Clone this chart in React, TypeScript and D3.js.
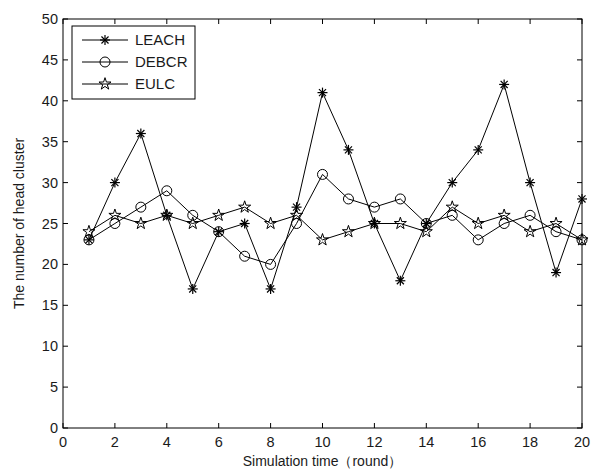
import React, { useEffect, useRef } from 'react'
import * as d3 from 'd3'

const rounds = d3.range(1, 21)
const leach = [23, 30, 36, 26, 17, 24, 25, 17, 27, 41, 34, 25, 18, 25, 30, 34, 42, 30, 19, 28]
const debcr = [23, 25, 27, 29, 26, 24, 21, 20, 25, 31, 28, 27, 28, 25, 26, 23, 25, 26, 24, 23]
const eulc = [24, 26, 25, 26, 25, 26, 27, 25, 26, 23, 24, 25, 25, 24, 27, 25, 26, 24, 25, 23]
const seriesNames = ['LEACH', 'DEBCR', 'EULC']
const xTicks = [0, 2, 4, 6, 8, 10, 12, 14, 16, 18, 20]
const yTicks = [0, 5, 10, 15, 20, 25, 30, 35, 40, 45, 50]

const W = 598, H = 470
const margin = { top: 19, right: 16, bottom: 42, left: 63 }
const font = 'Arial, "Liberation Sans", sans-serif'

// draws one marker at (0,0) inside g
function drawMarker(g: any, kind: string) {
    if (kind === 'LEACH') {
        const r = 5
        for (let a = 0; a < 180; a += 45) {
            const t = a * Math.PI / 180
            g.append('line')
                .attr('x1', -r * Math.cos(t)).attr('y1', -r * Math.sin(t))
                .attr('x2', r * Math.cos(t)).attr('y2', r * Math.sin(t))
                .attr('stroke', '#000').attr('stroke-width', 1.2)
        }
    } else if (kind === 'DEBCR') {
        g.append('circle').attr('r', 5).attr('fill', 'none').attr('stroke', '#000').attr('stroke-width', 1)
    } else {
        const star = d3.symbol().type(d3.symbolStar).size(45)
        g.append('path').attr('d', star()).attr('fill', 'none').attr('stroke', '#000').attr('stroke-width', 1)
    }
}

export default function App() {
    const ref = useRef<SVGSVGElement>(null)

    useEffect(() => {
        const svg = d3.select(ref.current)
        svg.selectAll('*').remove()
        const width = W - margin.left - margin.right,
            height = H - margin.top - margin.bottom

        const x = d3.scaleLinear().domain([0, 20]).range([0, width])
        const y = d3.scaleLinear().domain([0, 50]).range([height, 0])

        const g = svg.append('g').attr('transform', `translate(${margin.left},${margin.top})`)

        g.append('rect').attr('width', width).attr('height', height)
            .attr('fill', '#fff').attr('stroke', '#000').attr('stroke-width', 1)

        // ticks pointing inward on all four sides
        const tk = 5
        xTicks.forEach(v => {
            g.append('line').attr('x1', x(v)).attr('x2', x(v)).attr('y1', height).attr('y2', height - tk).attr('stroke', '#000')
            g.append('line').attr('x1', x(v)).attr('x2', x(v)).attr('y1', 0).attr('y2', tk).attr('stroke', '#000')
            g.append('text').attr('x', x(v)).attr('y', height + 19).attr('text-anchor', 'middle')
                .attr('font-family', font).attr('font-size', 14.5).attr('fill', '#1a1a1a').text(v)
        })
        yTicks.forEach(v => {
            g.append('line').attr('x1', 0).attr('x2', tk).attr('y1', y(v)).attr('y2', y(v)).attr('stroke', '#000')
            g.append('line').attr('x1', width).attr('x2', width - tk).attr('y1', y(v)).attr('y2', y(v)).attr('stroke', '#000')
            g.append('text').attr('x', -5).attr('y', y(v)).attr('dy', '0.35em').attr('text-anchor', 'end')
                .attr('font-family', font).attr('font-size', 14.5).attr('fill', '#1a1a1a').text(v)
        })

        const data = [leach, debcr, eulc]
        const line = d3.line<number>().x((d, i) => x(rounds[i])).y(d => y(d))
        data.forEach(vals => {
            g.append('path').datum(vals).attr('d', line)
                .attr('fill', 'none').attr('stroke', '#000').attr('stroke-width', 1)
        })
        data.forEach((vals, k) => {
            vals.forEach((v, i) => {
                const m = g.append('g').attr('transform', `translate(${x(rounds[i])},${y(v)})`)
                drawMarker(m, seriesNames[k])
            })
        })

        // legend
        const lg = svg.append('g').attr('transform', 'translate(72,26)')
        lg.append('rect').attr('width', 123).attr('height', 73).attr('fill', '#fff').attr('stroke', '#000')
        seriesNames.forEach((name, i) => {
            const yy = 14 + i * 22
            lg.append('line').attr('x1', 10).attr('x2', 56).attr('y1', yy).attr('y2', yy).attr('stroke', '#000')
            drawMarker(lg.append('g').attr('transform', `translate(33,${yy})`), name)
            lg.append('text').attr('x', 63).attr('y', yy).attr('dy', '0.35em')
                .attr('font-family', font).attr('font-size', 15).attr('fill', '#1a1a1a').text(name)
        })

        svg.append('text')
            .attr('transform', `translate(24,${margin.top + height / 2}) rotate(-90)`)
            .attr('text-anchor', 'middle').attr('font-family', font).attr('font-size', 14).attr('fill', '#1a1a1a')
            .text('The number of head cluster')
        svg.append('text')
            .attr('x', margin.left + width / 2).attr('y', 466).attr('text-anchor', 'middle')
            .attr('font-family', font).attr('font-size', 14).attr('fill', '#1a1a1a')
            .text('Simulation time（round）')
    }, [])

    return (
        <svg ref={ref} width={W} height={H} style={{ position: 'absolute', left: 0, top: 0, background: '#fff' }}></svg>
    )
}
